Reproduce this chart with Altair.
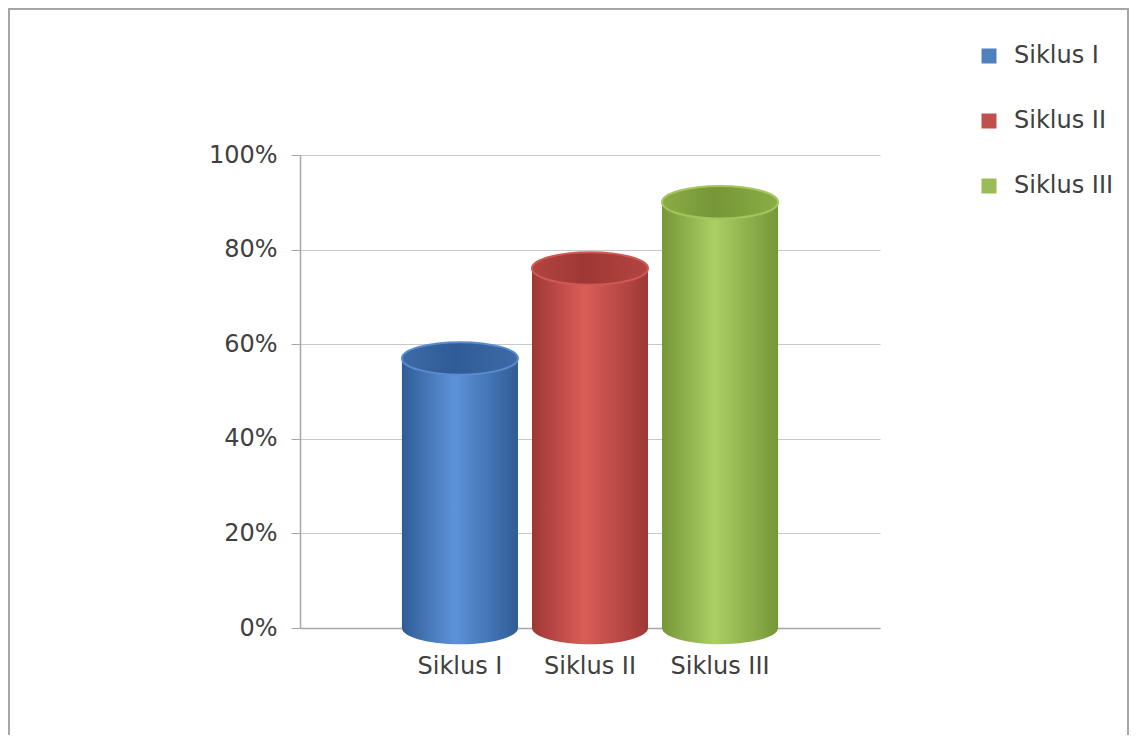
import altair as alt
import pandas as pd

# ---- data ----
categories = ["Siklus I", "Siklus II", "Siklus III"]
values = [0.57, 0.76, 0.90]
y_ticks = [0, 0.2, 0.4, 0.6, 0.8, 1.0]

# ---- styling ----
legend_colors = ["#4F81BD", "#C0504D", "#9BBB59"]
edge_colors = ["#2f5c96", "#9e3835", "#769638"]
mid_colors = ["#5d93d9", "#da5d58", "#abcf64"]
top_colors = ["#3e6ba7", "#b3443f", "#8bad46"]
rim_colors = ["#5a8cd0", "#cf5a55", "#a4c65e"]

FONT = "DejaVu Sans"
TEXT = "#404040"
AXIS_GRAY = "#a6a6a6"
ELLIPSE = "M-1,0 A1,0.28 0 1,1 1,0 A1,0.28 0 1,1 -1,0 Z"
BAR_W = 116

df = pd.DataFrame({"siklus": categories, "nilai": values})

x_enc = alt.X(
    "siklus:N",
    sort=categories,
    scale=alt.Scale(paddingInner=0, paddingOuter=0.73),
    axis=alt.Axis(
        title=None, labelAngle=0, labelFontSize=24, labelFont=FONT,
        labelColor=TEXT, labelPadding=26, ticks=False,
        domainColor=AXIS_GRAY, domainWidth=1.5,
    ),
)
y_enc = alt.Y(
    "nilai:Q",
    scale=alt.Scale(domain=[0, 1], nice=False),
    axis=alt.Axis(
        title=None, values=y_ticks, format=".0%", labelFontSize=24,
        labelFont=FONT, labelColor=TEXT, labelPadding=14, tickSize=9,
        tickColor=AXIS_GRAY, domainColor=AXIS_GRAY, domainWidth=1.5,
        gridColor="#c8c8c8", gridWidth=1,
    ),
)

base = alt.Chart(df)

# legend-carrying base bars
legend_layer = base.mark_bar(width=BAR_W).encode(
    x=x_enc,
    y=y_enc,
    color=alt.Color(
        "siklus:N",
        sort=categories,
        scale=alt.Scale(domain=categories, range=legend_colors),
        legend=alt.Legend(title=None),
    ),
)


def hgrad(edge, mid):
    return alt.Gradient(
        gradient="linear",
        x1=0, x2=1, y1=0, y2=0,
        stops=[
            alt.GradientStop(color=edge, offset=0),
            alt.GradientStop(color=mid, offset=0.45),
            alt.GradientStop(color=edge, offset=1),
        ],
    )


layers = [legend_layer]
for i, cat in enumerate(categories):
    sub = base.transform_filter(alt.datum.siklus == cat)
    grad = hgrad(edge_colors[i], mid_colors[i])
    bottom = sub.transform_calculate(dasar="0").mark_point(
        shape=ELLIPSE, size=BAR_W ** 2, filled=True, fill=grad,
        strokeWidth=0, opacity=1,
    ).encode(x=x_enc, y=alt.Y("dasar:Q", scale=alt.Scale(domain=[0, 1], nice=False)))
    body = sub.mark_bar(width=BAR_W, fill=grad, strokeWidth=0).encode(x=x_enc, y=y_enc)
    top = sub.mark_point(
        shape=ELLIPSE, size=BAR_W ** 2, filled=True,
        fill=hgrad(top_colors[i], edge_colors[i]),
        stroke=rim_colors[i], strokeWidth=2, opacity=1,
    ).encode(x=x_enc, y=y_enc)
    layers += [bottom, body, top]

frame = alt.Chart(pd.DataFrame({"k": [0]})).mark_rect(
    fillOpacity=0, stroke="#a6a6a6", strokeWidth=2
).encode(
    x=alt.value(-291), x2=alt.value(828),
    y=alt.value(-146), y2=alt.value(620),
)
layers.append(frame)

chart = alt.layer(*layers).properties(
    width=580,
    height=473,
    padding={"left": 292, "top": 147, "right": 249, "bottom": 107},
    autosize=alt.AutoSizeParams(type="none"),
    background="white",
).configure_view(stroke=None).configure_legend(
    orient="none",
    legendX=677,
    legendY=-111,
    symbolType="square",
    symbolSize=225,
    symbolStrokeWidth=0,
    labelFont=FONT,
    labelFontSize=24,
    labelColor=TEXT,
    labelOffset=13,
    rowPadding=41,
    padding=0,
)

chart.save("out.html", embed_options={"renderer": "svg", "actions": False})
